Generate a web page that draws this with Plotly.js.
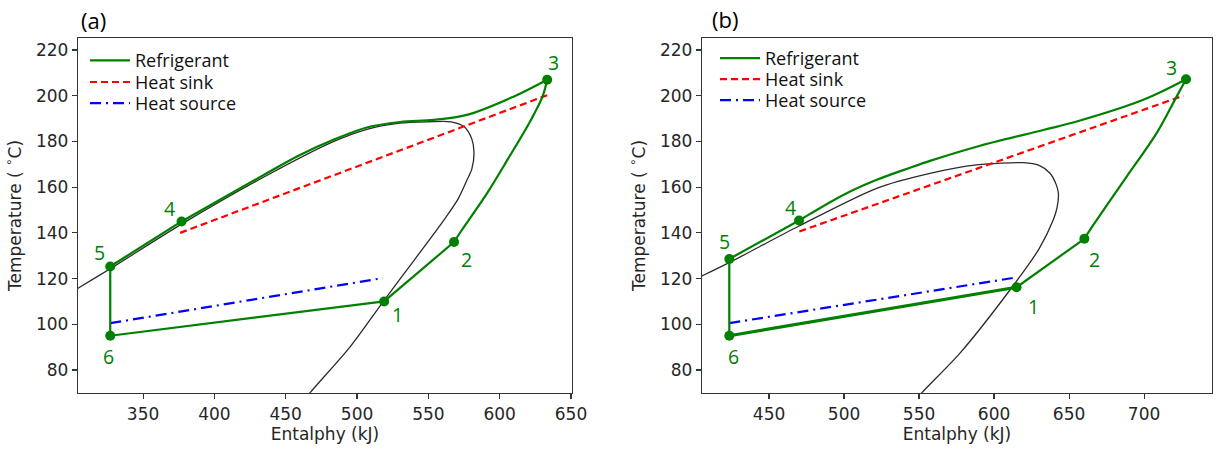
<!DOCTYPE html>
<html>
<head>
<meta charset="utf-8">
<script src="https://cdn.plot.ly/plotly-3.0.1.min.js"></script>
<style>
  html, body { margin: 0; padding: 0; background: #fff; }
  #chart { width: 1225px; height: 451px; }
</style>
</head>
<body>
<div id="chart"></div>
<script>
// ---------------- data ----------------
const STATE_LABELS = ['1', '2', '3', '4', '5', '6'];

// Panel (a)
const A_STATE_H = [519, 568, 633.3, 377, 327, 327];
const A_STATE_T = [110, 136, 207, 145, 125.3, 95];
const A_COMP_H = [568, 573.5, 591.1, 605.4, 621.9, 630, 633.3];
const A_COMP_T = [136, 141.25, 157.3, 171.9, 189.4, 199.6, 207];
const A_COND_H = [633.3, 609.7, 577, 553.6, 530.2, 506.8, 483.4, 460, 436.7, 377];
const A_COND_T = [207, 199.6, 191.6, 189.4, 188.5, 186.1, 180.7, 174.1, 166.1, 145];
const A_DOME_H = [295, 304.4, 327, 377, 437, 483, 507, 530, 550, 566, 575, 580.5, 582, 580.5, 577, 571, 561, 540, 519, 495, 467, 458];
const A_DOME_T = [112.3, 115.8, 124.3, 143.8, 165.2, 179.8, 185.3, 188, 188.6, 188.6, 186.5, 181, 175, 168, 163, 155, 145.7, 128, 110.5, 90, 70, 63];
const A_SINK_H = [376, 634];
const A_SINK_T = [140, 200.4];
const A_SOURCE_H = [327, 518];
const A_SOURCE_T = [100.5, 120.2];

// Panel (b)
const B_STATE_H = [615, 660.2, 728, 470, 423.5, 423.5];
const B_STATE_T = [116.2, 137.4, 207.2, 145.4, 128.6, 95];
const B_COMP_H = [660.2, 664, 688.4, 708.4, 721.7, 728];
const B_COMP_T = [137.4, 141.3, 164.6, 183.6, 199.6, 207.2];
const B_COND_H = [728, 699.5, 655.1, 632.8, 588.4, 557.3, 544, 521.8, 499.5, 477.1, 470];
const B_COND_T = [207.2, 198.2, 188.7, 185, 177.7, 171.5, 168.5, 163.2, 156.6, 148.2, 145.4];
const B_DOME_H = [395, 405.3, 423.5, 470, 521.8, 557.3, 588.4, 619.5, 630, 637.3, 641.5, 642.9, 642, 639.5, 630, 610.6, 577.3, 551.8, 540];
const B_DOME_T = [117.8, 121.2, 127, 143, 159.5, 166, 169.7, 170.7, 169.5, 166.1, 161, 157.3, 151, 145.7, 133, 115, 87.4, 70, 61];
const B_SINK_H = [470.2, 726.2];
const B_SINK_T = [140.6, 200];
const B_SOURCE_H = [423.5, 614];
const B_SOURCE_T = [100.5, 120.4];

const X_TITLE = 'Entalphy (kJ)';
const Y_TITLE = 'Temperature ( <sup>∘</sup>C)';
const PANEL_TAGS = ['(a)', '(b)'];
const LEGEND_NAMES = ['Refrigerant', 'Heat sink', 'Heat source'];

// ---------------- styling ----------------
const GREEN = '#008000';
const LW = 2.2;

function panelTraces(sfx, legIds, S_H, S_T, CP_H, CP_T, CD_H, CD_T, D_H, D_T, SK_H, SK_T, SR_H, SR_T, evapWidth) {
  const xa = 'x' + sfx, ya = 'y' + sfx;
  // straight segments 4 -> 5 -> 6 -> 1 -> 2
  const order = [3, 4, 5, 0, 1];
  const segH = order.map(i => S_H[i]);
  const segT = order.map(i => S_T[i]);
  return [
    { x: D_H, y: D_T, xaxis: xa, yaxis: ya, mode: 'lines', line: { color: '#2b2b2b', width: 1.3, shape: 'spline', smoothing: 0.8 }, showlegend: false, hoverinfo: 'skip' },
    { x: SK_H, y: SK_T, xaxis: xa, yaxis: ya, mode: 'lines', name: LEGEND_NAMES[1], legend: legIds[1], line: { color: '#ff0000', width: LW, dash: '7px,4px' } },
    { x: SR_H, y: SR_T, xaxis: xa, yaxis: ya, mode: 'lines', name: LEGEND_NAMES[2], legend: legIds[2], line: { color: '#0000ff', width: LW, dash: '11px,5px,2px,5px' } },
    { x: CD_H, y: CD_T, xaxis: xa, yaxis: ya, mode: 'lines', name: LEGEND_NAMES[0], legend: legIds[0], line: { color: GREEN, width: LW, shape: 'spline', smoothing: 1 } },
    { x: CP_H, y: CP_T, xaxis: xa, yaxis: ya, mode: 'lines', showlegend: false, line: { color: GREEN, width: LW, shape: 'spline', smoothing: 1 } },
    { x: segH.slice(0, 3), y: segT.slice(0, 3), xaxis: xa, yaxis: ya, mode: 'lines', showlegend: false, line: { color: GREEN, width: LW } },
    { x: segH.slice(2, 4), y: segT.slice(2, 4), xaxis: xa, yaxis: ya, mode: 'lines', showlegend: false, line: { color: GREEN, width: evapWidth } },
    { x: segH.slice(3, 5), y: segT.slice(3, 5), xaxis: xa, yaxis: ya, mode: 'lines', showlegend: false, line: { color: GREEN, width: LW } },
    { x: S_H, y: S_T, xaxis: xa, yaxis: ya, mode: 'markers', showlegend: false, marker: { color: GREEN, size: 10 } }
  ];
}

const traces = [].concat(
  panelTraces('', ['legend', 'legend3', 'legend5'], A_STATE_H, A_STATE_T, A_COMP_H, A_COMP_T, A_COND_H, A_COND_T, A_DOME_H, A_DOME_T, A_SINK_H, A_SINK_T, A_SOURCE_H, A_SOURCE_T, LW),
  panelTraces('2', ['legend2', 'legend4', 'legend6'], B_STATE_H, B_STATE_T, B_COMP_H, B_COMP_T, B_COND_H, B_COND_T, B_DOME_H, B_DOME_T, B_SINK_H, B_SINK_T, B_SOURCE_H, B_SOURCE_T, 3.2)
);

const tickFont = { family: 'DejaVu Sans', size: 17, color: '#262626' };
const titleFont = { family: 'DejaVu Sans', size: 17, color: '#262626' };
const axisCommon = {
  showgrid: false, zeroline: false, showline: true, mirror: true,
  linecolor: '#333', linewidth: 1.2, ticks: 'outside', ticklen: 5, tickwidth: 1.1, tickcolor: '#333',
  tickfont: tickFont
};

const yDomain = [1 - 393 / 451, 1 - 38 / 451];
const legFont = { family: 'Open Sans', size: 18, color: '#111' };
function leg(xpx, ypx) {
  return { x: xpx / 1225, y: 1 - ypx / 451, xanchor: 'left', yanchor: 'middle', bgcolor: 'rgba(0,0,0,0)', borderwidth: 0, font: legFont, itemwidth: 40 };
}
const layout = {
  width: 1225, height: 451,
  margin: { l: 0, r: 0, t: 0, b: 0 },
  paper_bgcolor: '#fff', plot_bgcolor: '#fff',
  xaxis: Object.assign({}, axisCommon, { domain: [78 / 1225, 572 / 1225], range: [304.4, 650.7], dtick: 50, tick0: 0, anchor: 'y', title: { text: X_TITLE, font: titleFont, standoff: 5 } }),
  yaxis: Object.assign({}, axisCommon, { domain: yDomain, range: [69.94, 225.25], dtick: 20, tick0: 0, anchor: 'x', title: { text: Y_TITLE, font: titleFont, standoff: 10 } }),
  xaxis2: Object.assign({}, axisCommon, { domain: [702 / 1225, 1212 / 1225], range: [405.3, 745.3], dtick: 50, tick0: 0, anchor: 'y2', title: { text: X_TITLE, font: titleFont, standoff: 5 } }),
  yaxis2: Object.assign({}, axisCommon, { domain: yDomain, range: [69.94, 225.25], dtick: 20, tick0: 0, anchor: 'x2', title: { text: Y_TITLE, font: titleFont, standoff: 10 } }),
  legend: leg(85, 60.7),
  legend3: leg(85, 82.3),
  legend5: leg(85, 103.5),
  legend2: leg(715, 58.5),
  legend4: leg(715, 79.5),
  legend6: leg(715, 100.5),
  annotations: [],
  showlegend: true
};

// state point labels
const A_OFF = [[13, -13], [12, -17], [6, 17], [-12, 13], [-11, 14], [-2, -21]];
const B_OFF = [[17, -19], [10, -21], [-15, 12], [-9, 13], [-5, 17], [4, -21]];
function addLabels(sfx, H, T, OFF) {
  STATE_LABELS.forEach((lab, i) => {
    layout.annotations.push({
      x: H[i], y: T[i], xref: 'x' + sfx, yref: 'y' + sfx, text: lab, showarrow: false,
      xshift: OFF[i][0], yshift: OFF[i][1], xanchor: 'center', yanchor: 'middle',
      font: { family: 'Open Sans', size: 19.5, color: GREEN }
    });
  });
}
addLabels('', A_STATE_H, A_STATE_T, A_OFF);
addLabels('2', B_STATE_H, B_STATE_T, B_OFF);

layout.annotations.push({ x: 93 / 1225, y: 1 - 20 / 451, xref: 'paper', yref: 'paper', xanchor: 'center', yanchor: 'middle', text: PANEL_TAGS[0], showarrow: false, font: { family: 'Open Sans', size: 22, color: '#000' } });
layout.annotations.push({ x: 725 / 1225, y: 1 - 19 / 451, xref: 'paper', yref: 'paper', xanchor: 'center', yanchor: 'middle', text: PANEL_TAGS[1], showarrow: false, font: { family: 'Open Sans', size: 22, color: '#000' } });

Plotly.newPlot('chart', traces, layout, { staticPlot: true, displayModeBar: false });
</script>
</body>
</html>
